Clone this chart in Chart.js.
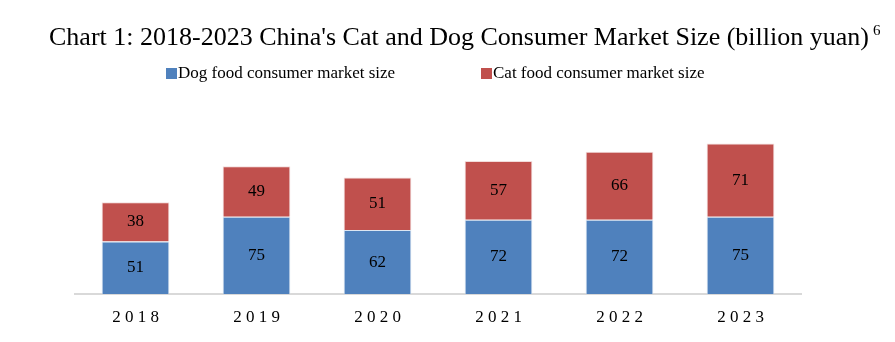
<!DOCTYPE html>
<html>
<head>
<meta charset="utf-8">
<script src="https://cdn.jsdelivr.net/npm/chart.js@4"></script>
<style>
  body { margin: 0; background: #fff; }
  #wrap { position: relative; width: 895px; height: 342px; font-family: "Liberation Serif", "Times New Roman", serif; }
  #chart { position: absolute; left: 0; top: 0; }
  #title { position: absolute; left: 49px; top: 15px; font-size: 26px; line-height: 30px; white-space: nowrap; color: #000; }
  #title sup { font-size: 15px; vertical-align: 10px; margin-left: 4px; }
  #legend { position: absolute; top: 62px; left: 0; width: 895px; font-size: 17px; line-height: 22px; color: #000; }
  .item { position: absolute; white-space: nowrap; }
  .box { display: inline-block; width: 11px; height: 11px; margin-right: 1px; vertical-align: -1px; }
</style>
</head>
<body>
<div id="wrap">
  <canvas id="chart" width="895" height="342"></canvas>
  <div id="title">Chart 1: 2018-2023 China's Cat and Dog Consumer Market Size (billion yuan)<sup>6</sup></div>
  <div id="legend"></div>
</div>
<script>
const years = ['2018', '2019', '2020', '2021', '2022', '2023'];
const dogFood = [51, 75, 62, 72, 72, 75];
const catFood = [38, 49, 51, 57, 66, 71];

const seriesNames = ['Dog food consumer market size', 'Cat food consumer market size'];
const seriesColors = ['#4F81BD', '#C0504D'];
const seriesEdges = ['#DCE6F2', '#F2DCDB'];

// legend row above the plot
const legendPos = [166, 481];
const legendEl = document.getElementById('legend');
seriesNames.forEach(function (name, i) {
    const item = document.createElement('span');
    item.className = 'item';
    item.style.left = legendPos[i] + 'px';
    item.innerHTML = '<span class="box" style="background:' + seriesColors[i] + '"></span>' + name;
    legendEl.appendChild(item);
});

// value written in the middle of each bar segment
const segmentLabels = {
    id: 'segmentLabels',
    afterDatasetsDraw(chart) {
        const ctx = chart.ctx;
        ctx.save();
        ctx.font = '17px "Liberation Serif", "Times New Roman", serif';
        ctx.fillStyle = '#000';
        ctx.textAlign = 'center';
        ctx.textBaseline = 'middle';
        chart.data.datasets.forEach(function (ds, i) {
            chart.getDatasetMeta(i).data.forEach(function (bar, j) {
                ctx.fillText(String(ds.data[j]), bar.x, (bar.y + bar.base) / 2);
            });
        });
        ctx.restore();
    }
};

const ctx = document.getElementById('chart').getContext('2d');
new Chart(ctx, {
    type: 'bar',
    data: {
        labels: years,
        datasets: [{
            label: seriesNames[0],
            data: dogFood,
            backgroundColor: seriesColors[0],
            borderColor: seriesEdges[0],
            borderWidth: 1,
            borderSkipped: 'bottom'
        }, {
            label: seriesNames[1],
            data: catFood,
            backgroundColor: seriesColors[1],
            borderColor: seriesEdges[1],
            borderWidth: 1,
            borderSkipped: 'bottom'
        }]
    },
    options: {
        responsive: false,
        animation: false,
        layout: { padding: { left: 75, right: 94, top: 129, bottom: 0 } },
        plugins: {
            legend: { display: false },
            title: { display: false },
            tooltip: { enabled: false }
        },
        datasets: { bar: { categoryPercentage: 1, barPercentage: 0.56 } },
        scales: {
            x: {
                stacked: true,
                grid: { display: false },
                border: { display: true, color: '#D9D9D9', width: 2 },
                ticks: {
                    color: '#000',
                    padding: 5,
                    font: { family: '"Liberation Serif", "Times New Roman", serif', size: 17 },
                    callback: function (v, i) { return years[i].split('').join(' '); }
                },
                afterFit: function (scale) { scale.height = 48; }
            },
            y: {
                stacked: true,
                display: false,
                min: 0,
                max: 160
            }
        }
    },
    plugins: [segmentLabels]
});
</script>
</body>
</html>
